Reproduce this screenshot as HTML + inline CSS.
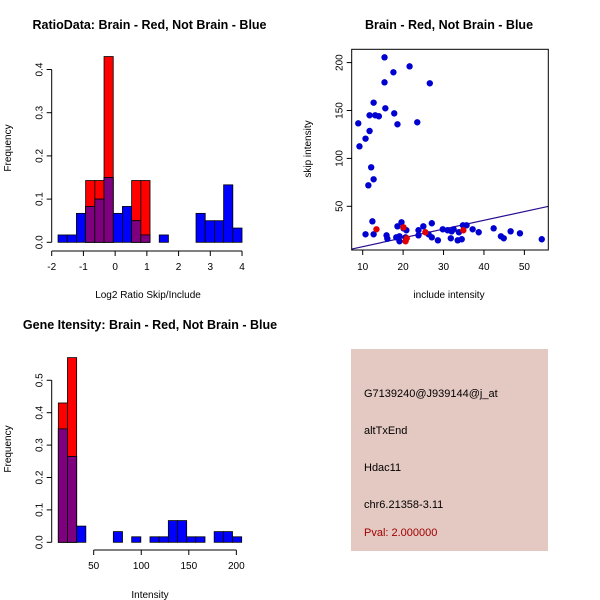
<!DOCTYPE html>
<html><head><meta charset="utf-8"><style>
html,body{margin:0;padding:0;background:#fff;}
svg{display:block;font-family:"Liberation Sans",Arial,sans-serif;}
</style></head><body>
<svg id="c" width="600" height="600" viewBox="0 0 600 600" xmlns="http://www.w3.org/2000/svg">
<rect x="0" y="0" width="600" height="600" fill="#fff"/>
<text x="149.5" y="29" text-anchor="middle" font-size="12.5" font-weight="bold">RatioData: Brain - Red, Not Brain - Blue</text>
<text x="449" y="29" text-anchor="middle" font-size="12.5" font-weight="bold">Brain - Red, Not Brain - Blue</text>
<text x="150" y="329" text-anchor="middle" font-size="12.5" font-weight="bold">Gene Itensity: Brain - Red, Not Brain - Blue</text>
<text x="148" y="298" text-anchor="middle" font-size="10">Log2 Ratio Skip/Include</text>
<text x="449" y="298" text-anchor="middle" font-size="10">include intensity</text>
<text x="150" y="598" text-anchor="middle" font-size="10">Intensity</text>
<text transform="translate(11,148) rotate(-90)" text-anchor="middle" font-size="10">Frequency</text>
<text transform="translate(311,149) rotate(-90)" text-anchor="middle" font-size="10">skip intensity</text>
<text transform="translate(11,449) rotate(-90)" text-anchor="middle" font-size="10">Frequency</text>
<g>
<rect x="351" y="349" width="197" height="202" fill="#e4c8c2"/>
<text x="364" y="397" font-size="11">G7139240@J939144@j_at</text>
<text x="364" y="434" font-size="11">altTxEnd</text>
<text x="364" y="471" font-size="11">Hdac11</text>
<text x="364" y="508" font-size="11">chr6.21358-3.11</text>
<text x="364" y="536" font-size="11" fill="#a00000">Pval: 2.000000</text>
</g>
</svg>
<script>
// ---- Ratio histogram data ----
const ratioBinStart = -1.8;
const ratioBinEnd = 4.0;
const ratioBlue = [0.017,0.017,0.067,0.083,0.1,0.15,0.067,0.083,0.05,0.017,0,0.017,0,0,0,0.067,0.05,0.05,0.133,0.033];
const ratioRed  = [0,0,0,0.143,0.143,0.43,0,0,0.143,0.143,0,0,0,0,0,0,0,0,0,0];
const ratioXTicks = [-2,-1,0,1,2,3,4];
const ratioYTicks = [0,0.1,0.2,0.3,0.4];
// ---- Intensity histogram data ----
const intBinStart = 12.8;
const intBinEnd = 205.6;
const intBlue = [0.35,0.265,0.05,0,0,0,0.033,0,0.017,0,0.017,0.017,0.067,0.067,0.017,0.017,0,0.033,0.033,0.017];
const intRed  = [0.43,0.57,0,0,0,0,0,0,0,0,0,0,0,0,0,0,0,0,0,0];
const intXTicks = [50,100,150,200];
const intYTicks = [0,0.1,0.2,0.3,0.4,0.5];
// ---- Scatter data ----
const blueX = [8.9,9.2,10.7,11.7,11.7,12.7,13.1,14,15.4,15.4,15.6,17.6,17.8,18.6,21.6,23.5,26.6,12.1,12.7,11.4,12.4,10.7,12.7,15.9,16.1,18.6,18.3,19.1,19.1,19.6,20.1,20.6,20.8,23.8,23.8,25,26.3,27.1,27.1,28.6,29.8,31,31.8,32,32.5,33.5,33.8,34.5,34.8,35.7,37.2,38.7,42.4,44.2,44.9,46.6,48.9,54.3];
const blueY = [136.6,112.6,120.6,128.6,145,158.2,145,144,205.5,179.4,152.3,189.9,147,135.6,196.1,137.7,178.4,90.7,78.2,71.9,34.3,20.8,20.8,19.7,16.2,29.1,17.6,18.7,13.5,33.3,27,17.6,25,25,19.7,29.1,20.8,17.6,32.3,14.5,26,25,16.6,23.9,26,14.5,22.9,15.6,30.2,30.2,26,22.9,27,18.7,16.6,23.9,21.8,15.6];
const redX = [13.4,20.1,20.6,25.5,34.9,20.9];
const redY = [26,28,13.5,22.9,25,16.6];
const fitLine = [7.28,5.4,56.0,50.0];
const scXTicks = [10,20,30,40,50];
const scYTicks = [50,100,150,200];

const svg = document.getElementById('c');
const NS = 'http://www.w3.org/2000/svg';
function mk(tag, attrs, parent){
  const e = document.createElementNS(NS, tag);
  for (const k in attrs) e.setAttribute(k, attrs[k]);
  (parent||svg).appendChild(e);
  return e;
}
function grp(name){
  const g = mk('g', {});
  
  
  return g;
}

function histogram(prefix, binStart, binEnd, blue, red, xTicks, yTicks, sx, sy, yAxisX, xAxisY, xTickMin, xTickMax, fmtY){
  const g = grp(prefix + '-histogram');
  const n = blue.length, w = (binEnd - binStart)/n;
  for (let i=0;i<n;i++){
    const x0 = sx(binStart + i*w), x1 = sx(binStart + (i+1)*w);
    const r = red[i], b = blue[i];
    if (Math.max(r,b)<=0) continue;
    if (r>0){
      const e = mk('rect',{x:x0,y:sy(r),width:x1-x0,height:sy(0)-sy(r),fill:'#ff0000',stroke:'#000','stroke-width':0.8},g);
      
      
    }
    if (b>0){
      const e = mk('rect',{x:x0,y:sy(b),width:x1-x0,height:sy(0)-sy(b),fill:'#0000ff',stroke:'#000','stroke-width':0.8},g);
      
      
    }
    if (r>0 && b>0){
      const m = Math.min(r,b);
      const e = mk('rect',{x:x0,y:sy(m),width:x1-x0,height:sy(0)-sy(m),fill:'#7f007f',stroke:'#000','stroke-width':0.8},g);
      
      
    }
  }
  const ax = grp(prefix + '-x-axis');
  mk('line',{x1:sx(xTickMin),x2:sx(xTickMax),y1:xAxisY,y2:xAxisY,stroke:'#000'},ax);
  xTicks.forEach(t=>{
    mk('line',{x1:sx(t),x2:sx(t),y1:xAxisY,y2:xAxisY+5,stroke:'#000'},ax);
    const tx = mk('text',{x:sx(t),y:xAxisY+19,'text-anchor':'middle','font-size':10},ax);
    tx.textContent = t;
    
    
  });
  const ay = grp(prefix + '-y-axis');
  mk('line',{x1:yAxisX,x2:yAxisX,y1:sy(yTicks[0]),y2:sy(yTicks[yTicks.length-1]),stroke:'#000'},ay);
  yTicks.forEach(t=>{
    mk('line',{x1:yAxisX-5,x2:yAxisX,y1:sy(t),y2:sy(t),stroke:'#000'},ay);
    const tx = mk('text',{transform:'translate('+(yAxisX-9)+','+sy(t)+') rotate(-90)','text-anchor':'middle','font-size':10},ay);
    tx.textContent = fmtY(t);
    
    
  });
}

const rsx = v => 51.7 + (v+2)*31.72;
const rsy = v => 242.3 - v*432;
histogram('ratio', ratioBinStart, ratioBinEnd, ratioBlue, ratioRed, ratioXTicks, ratioYTicks, rsx, rsy, 51.7, 251, -2, 4, t=>t.toFixed(1));

const isx = v => 93.7 + (v-50)*0.951;
const isy = v => 542.3 - v*324;
histogram('intensity', intBinStart, intBinEnd, intBlue, intRed, intXTicks, intYTicks, isx, isy, 51.7, 550, 50, 200, t=>t.toFixed(1));

const ssx = v => 362.7 + (v-10)*4.042;
const ssy = v => 206.3 - (v-50)*0.958;
const sg = grp('scatter-plot');
const pts = grp('scatter-points');
for (let i=0;i<blueX.length;i++){
  const c = mk('circle',{cx:ssx(blueX[i]),cy:ssy(blueY[i]),r:3.2,fill:'#0000d0'},pts);
  
  
}
for (let i=0;i<redX.length;i++){
  const c = mk('circle',{cx:ssx(redX[i]),cy:ssy(redY[i]),r:3.2,fill:'#e00000'},pts);
  
  
}
const fl = mk('line',{x1:ssx(fitLine[0]),y1:ssy(fitLine[1]),x2:ssx(fitLine[2]),y2:ssy(fitLine[3]),stroke:'#2a0e90','stroke-width':1.2},sg);


const box = mk('rect',{x:351.7,y:49.3,width:196.6,height:200.7,fill:'none',stroke:'#000'},sg);


const sxa = grp('scatter-x-axis');
scXTicks.forEach(t=>{
  mk('line',{x1:ssx(t),x2:ssx(t),y1:250,y2:255,stroke:'#000'},sxa);
  const tx = mk('text',{x:ssx(t),y:270,'text-anchor':'middle','font-size':10},sxa);
  tx.textContent = t;
  
  
});
const sya = grp('scatter-y-axis');
scYTicks.forEach(t=>{
  mk('line',{x1:346.7,x2:351.7,y1:ssy(t),y2:ssy(t),stroke:'#000'},sya);
  const tx = mk('text',{transform:'translate(342.7,'+ssy(t)+') rotate(-90)','text-anchor':'middle','font-size':10},sya);
  tx.textContent = t;
  
  
});
</script>
</body></html>
